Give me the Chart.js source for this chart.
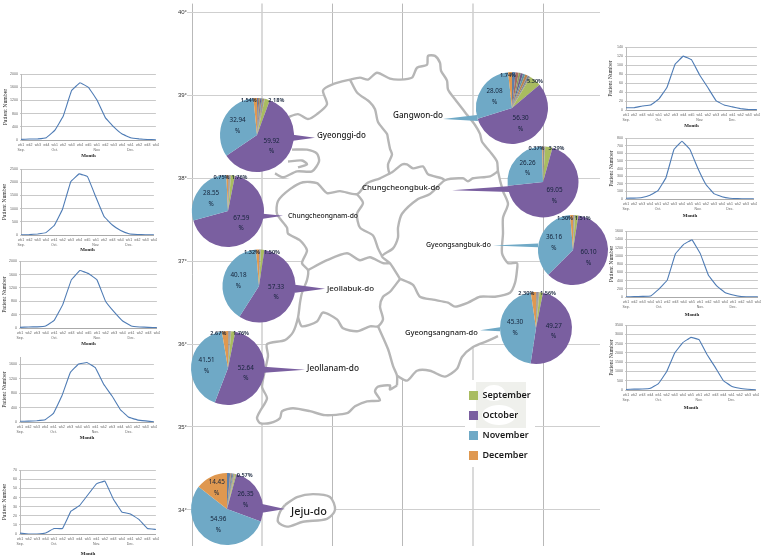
<!DOCTYPE html>
<html><head><meta charset="utf-8">
<style>
html,body{margin:0;padding:0;background:#fff;width:763px;height:556px;overflow:hidden}
canvas{position:absolute;display:block;filter:blur(0.3px)}
</style>
<script src="https://cdn.jsdelivr.net/npm/chart.js@4/dist/chart.umd.min.js"></script>
</head><body>
<script>
/* ---------- weekly line charts ---------- */
const weekLabels = ['wk1','wk2','wk3','wk4','wk1','wk2','wk3','wk4','wk5','wk1','wk2','wk3','wk4','wk1','wk2','wk3','wk4'];
const monthAtWeek = {0:'Sep.',4:'Oct.',9:'Nov.',13:'Dec.'};
const weeklyGyeonggi  = [20,30,35,70,290,720,1500,1740,1600,1220,680,400,180,70,35,15,5];
const weeklyChungnam  = [5,15,40,90,360,980,2030,2320,2220,1450,700,380,170,50,20,10,5];
const weeklyJeonbuk   = [20,30,35,60,230,700,1440,1720,1630,1440,800,480,210,60,30,20,10];
const weeklyJeonnam   = [20,25,35,60,240,720,1370,1610,1650,1510,1050,720,340,130,60,30,5];
const weeklyJeju      = [1,0,0,1,6,6,25,31,43,55,58,38,24,22,16,6,5];
const weeklyGangwon   = [5,5,9,11,24,50,102,120,112,78,50,21,11,7,3,1,1];
const weeklyChungbuk  = [10,12,20,50,110,280,650,760,650,400,190,70,30,10,5,2,1];
const weeklyGyeongbuk = [5,10,15,25,190,410,1050,1280,1390,1060,530,270,110,50,10,5,2];
const weeklyGyeongnam = [30,50,50,90,350,980,2000,2560,2840,2720,1900,1220,500,200,90,40,10];

/* ---------- monthly share pies: Jan..Aug (small), Sep, Oct, Nov, Dec ---------- */
const pieMonths = ['Jan','Feb','Mar','Apr','May','Jun','Jul','Aug','September','October','November','December'];
const shareGyeonggi  = [0.5,0.5,0.4,0.5,0.4,0.4,0.4,0.32,2.18,59.92,32.94,1.54];
const shareChungnam  = [0.2,0.2,0.15,0.2,0.15,0.15,0.15,0.15,1.76,67.59,28.55,0.75];
const shareJeonbuk   = [0.1,0.1,0.1,0.2,0.1,0.1,0.1,0.1,1.50,57.33,40.18,1.32];
const shareJeonnam   = [0.2,0.2,0.2,0.2,0.15,0.15,0.15,0.17,1.76,52.64,41.51,2.67];
const shareJeju      = [1.4,0.3,0.3,0.4,0.5,0.3,0.2,0.27,0.57,26.35,54.96,14.45];
const shareGangwon   = [1.6,1.4,0.9,1.1,1.0,1.2,0.9,0.48,5.30,56.30,28.08,1.74];
const shareChungbuk  = [0.15,0.15,0.1,0.15,0.1,0.15,0.1,0.13,3.29,69.05,26.26,0.37];
const shareGyeongbuk = [0.15,0.1,0.1,0.15,0.1,0.15,0.1,0.08,1.51,60.10,36.16,1.30];
const shareGyeongnam = [0.25,0.2,0.2,0.25,0.2,0.2,0.15,0.12,1.56,49.27,45.30,2.30];

const regionNames = ['Gyeonggi-do','Chungcheongnam-do','Jeollabuk-do','Jeollanam-do','Jeju-do','Gangwon-do','Chungcheongbuk-do','Gyeongsangbuk-do','Gyeongsangnam-do'];
const latTicks = [34,35,36,37,38,39,40];
const lonTicks = [125,126,127,128,129,130];

/* ---------- map outlines, traced on the picture and georeferenced below ---------- */
const traceNorthEast = [[288,115],[298,112],[308,117],[317,112],[327,102],[323,88],[332,82],[350,77],[360,75],[368,77],[377,70],[390,76],[400,77],[412,75],[417,65],[427,62],[428,53],[435,53],[440,60],[441,68],[447,78],[448,87],[455,97],[465,110],[475,123],[480,132],[482,140],[490,150],[497,160],[498,170],[503,190],[508,203],[503,217],[503,233],[502,253],[508,263],[517,263],[517,270],[515,283],[510,293],[495,297],[480,297],[468,303],[455,307],[448,303],[433,300],[420,297],[413,285],[400,279]];
const traceGangwonSouth = [[350,77],[357,90],[370,100],[375,107],[378,120],[387,132],[388,137],[390,147],[392,153],[388,163],[390,172],[402,163],[407,163],[413,167],[423,165],[428,173],[442,177],[445,179]];
const traceChungbukSouth = [[498,170],[490,175],[473,177],[468,180],[463,177],[445,179],[430,193],[418,198],[402,213],[398,227],[398,237],[393,248],[382,256],[390,263],[400,279]];
const traceWestCoast = [[390,172],[380,177],[367,182],[357,193],[340,190],[327,192],[317,182],[303,181],[290,188],[278,200],[277,213],[287,227],[288,233],[300,240],[307,250],[302,263],[308,270],[307,280],[302,293],[300,303],[298,318],[293,333],[285,341],[267,345],[268,357],[262,388],[267,400],[260,413],[257,420],[260,425],[270,425],[280,420],[282,413],[293,410],[310,413],[325,417],[347,415],[355,408],[367,403],[380,402],[375,393],[378,388],[390,387],[390,391],[397,387]];
const traceGyeongnamWest = [[378,327],[388,350],[393,367],[397,377],[397,387]];
const traceSouthCoast = [[397,377],[407,382],[417,372],[430,372],[445,378],[457,370],[462,358],[473,348],[487,342],[498,337]];
const traceJeonbukSouth = [[298,318],[302,327],[317,322],[323,313],[337,320],[343,329],[357,332],[370,327],[378,327],[383,320],[380,307],[383,297],[390,292],[400,279]];
const traceJeonbukNorth = [[308,270],[327,260],[347,253],[360,260],[370,257],[383,263],[390,263]];
const traceChungnamEast = [[357,193],[363,202],[357,213],[360,227],[373,235],[378,248],[382,256]];
const traceGyeonggiCoast = [[275,172],[283,176],[297,170],[312,170],[319,160],[317,152],[307,148],[292,148]];
const traceGyeonggiIsle = [[288,160],[302,159],[307,163],[298,166]];
const traceJeju = [[285,508],[297,500],[313,497],[330,500],[335,513],[327,522],[303,525],[287,530],[278,525],[280,515],[285,508]];
const traceLand = [...traceNorthEast.slice(0,40),[498,337],...traceSouthCoast.slice().reverse(),[397,387],[390,391],[390,387],[378,388],[375,393],[380,402],[367,403],[355,408],[347,415],[325,417],[310,413],[293,410],[282,413],[280,420],[270,425],[260,425],[257,420],[260,413],[267,400],[262,388],[268,357],[267,345],[285,341],[293,333],[298,318],[300,303],[302,293],[307,280],[308,270],[302,263],[307,250],[300,240],[288,233],[287,227],[277,213],[278,200],[290,188],[303,181],[283,176],[297,170],[312,170],[319,160],[317,152],[307,148],[292,148],[288,115]];
const wedgeGyeonggi  = [[293,133],[315,136],[293,139]];
const wedgeChungnam  = [[263,213],[283,215],[263,218]];
const wedgeJeonbuk   = [[295,285],[325,289],[295,293]];
const wedgeJeonnam   = [[264,368],[305,371],[264,374]];
const wedgeJeju      = [[262,507],[285,512],[262,516]];
const wedgeGangwon   = [[477,113],[443,117],[478,119]];
const wedgeChungbuk  = [[508,185],[452,189],[510,191]];
const wedgeGyeongbuk = [[538,243],[493,245],[538,247]];
const wedgeGyeongnam = [[500,328],[480,331],[500,332]];

/* ---------- styles & layout ---------- */
const C = {line:'#4f7cb5', grid:'#c9c9c9', land:'#b6b6b6', sep:'#a9bc60', oct:'#7a5fa0', nov:'#6fa9c6', dec:'#df9850', purple:'#7a5fa0', blue:'#6fa9c6'};
const sliceColors = ['#5f7fa8','#a8695f','#8b9a5b','#6f5b86','#5f93a3','#b8824e','#7d8794','#9a8f7a',C.sep,C.oct,C.nov,C.dec];
const lon = x => 125+(x-192)/70.3, lat = y => 34+(513-y)/84;
const geo = t => t.map(([x,y]) => ({x:lon(x), y:lat(y)}));
Chart.defaults.animation = false;
Chart.defaults.responsive = false;
Chart.defaults.plugins.legend.display = false;
Chart.defaults.plugins.tooltip.enabled = false;

function addCanvas(l,t,w,h,z){
  const c = document.createElement('canvas');
  c.width = w; c.height = h;
  c.style.cssText = `left:${l}px;top:${t}px;width:${w}px;height:${h}px;z-index:${z}`;
  document.body.appendChild(c);
  return c;
}

/* ---------- map ---------- */
const outlineTraces = [traceNorthEast,traceGangwonSouth,traceChungbukSouth,traceWestCoast,traceGyeongnamWest,traceSouthCoast,traceJeonbukSouth,traceJeonbukNorth,traceChungnamEast,traceGyeonggiCoast,traceGyeonggiIsle];
const regionLabelLayout = [[317,136,49],[288,216,70],[327,289,47],[307,369,52],[291,512,36],[393,116,50],[362,188,78],[426,245,65],[405,333,73]];
const regionLabelPlugin = {id:'regionLabels', afterDatasetsDraw(chart){
  const ctx = chart.ctx, originX = 150;
  ctx.save(); ctx.textBaseline='middle'; ctx.textAlign='left'; ctx.fillStyle='#1c1c1c';
  regionNames.forEach((name,i)=>{
    const [x,y,w] = regionLabelLayout[i];
    ctx.font = '500 10px "Noto Sans"';
    const size = 10*w/ctx.measureText(name).width;
    ctx.font = '500 '+size.toFixed(2)+'px "Noto Sans"';
    ctx.fillText(name,x-originX,y);
  });
  ctx.restore();
}};
const lineSet = (t,extra) => Object.assign({data:geo(t),showLine:true,pointRadius:0,borderColor:C.land,borderWidth:2.4,borderJoinStyle:'round',tension:0.25,fill:false,order:2},extra||{});
const wedgeSet = (t,col) => ({data:geo(t),showLine:true,pointRadius:0,borderWidth:0,backgroundColor:col,fill:'shape',order:0});
new Chart(addCanvas(150,0,450,550,1),{
  type:'scatter',
  data:{datasets:[
    wedgeSet(wedgeGyeonggi,C.purple),wedgeSet(wedgeChungnam,C.purple),wedgeSet(wedgeJeonbuk,C.purple),wedgeSet(wedgeJeonnam,C.purple),wedgeSet(wedgeJeju,C.purple),
    wedgeSet(wedgeGangwon,C.blue),wedgeSet(wedgeChungbuk,C.purple),wedgeSet(wedgeGyeongbuk,C.blue),wedgeSet(wedgeGyeongnam,C.blue),
    ...outlineTraces.map(t=>lineSet(t)),
    lineSet(traceJeju,{backgroundColor:'#fff',fill:'shape',tension:0.3,order:1}),
    {data:geo(traceLand),showLine:true,pointRadius:0,borderWidth:0,backgroundColor:'#fff',fill:'shape',order:5}
  ]},
  options:{
    layout:{padding:0},
    scales:{
      x:{type:'linear',min:lon(192),max:lon(600),
         afterBuildTicks:s=>{s.ticks=lonTicks.map(v=>({value:v}));},
         afterFit:s=>{s.height=0;},
         ticks:{display:false},border:{display:false},
         grid:{drawTicks:false,
           color:c=>[125,127,128,130].includes(c.tick.value)?'#b9b9b9':'#dadada',
           lineWidth:c=>[126,129].includes(c.tick.value)?2:1}},
      y:{type:'linear',min:lat(550),max:lat(0),
         afterBuildTicks:s=>{s.ticks=latTicks.map(v=>({value:v}));},
         afterFit:s=>{s.width=42;},
         ticks:{callback:v=>v+'°',padding:0,color:'#333',font:{family:'"Liberation Sans"',size:6}},
         border:{display:false},
         grid:{color:'#cfcfcf',lineWidth:1,tickLength:5}}
    }
  },
  plugins:[regionLabelPlugin]
});

/* ---------- line charts ---------- */
const weekTicks = weekLabels.map((w,i)=> monthAtWeek[i] ? [w,monthAtWeek[i]] : w);
function weekly(values,yMax,step,l,t,r,b,monthY,titleX,canvasLeft){
  const top = t-3, H = monthY+3-top, W = r+2-canvasLeft;
  new Chart(addCanvas(canvasLeft,top,W,H,1),{
    type:'line',
    data:{labels:weekTicks,datasets:[{data:values,borderColor:C.line,borderWidth:1.1,pointRadius:0,tension:0.05}]},
    options:{
      layout:{padding:{top:3,right:2}},
      scales:{
        x:{afterFit:s=>{s.height=H-3-(b-t);},
           ticks:{autoSkip:false,maxRotation:0,minRotation:0,padding:2,color:'#666',font:{family:'"Liberation Sans"',size:3.5,lineHeight:1.4}},
           grid:{display:false,tickLength:1},border:{color:'#aaa'},
           title:{display:true,text:'Month',color:'#222',padding:{top:0,bottom:0.5},font:{family:'"Liberation Serif"',size:5,weight:'bold',lineHeight:1.2}}},
        y:{min:0,max:yMax,afterFit:s=>{s.width=l-canvasLeft;},
           ticks:{stepSize:step,padding:2,color:'#666',font:{family:'"Liberation Sans"',size:3.6},callback:v=>String(v)},
           grid:{color:C.grid,lineWidth:1,tickLength:1},border:{color:'#bbb'},
           title:{display:true,text:'Patient Number',color:'#222',padding:{top:titleX-canvasLeft-3,bottom:0},font:{family:'"Liberation Serif"',size:5.8,lineHeight:1.2}}}
      }
    }
  });
}
weekly(weeklyGyeonggi,2000,200,21,73,159,140,156,5,0);
weekly(weeklyChungnam,2500,500,21,168,157,235,250,4,0);
weekly(weeklyJeonbuk,2000,200,20,260,160,328,344,4,0);
weekly(weeklyJeonnam,1800,200,20,356,157,422,438,4,0);
weekly(weeklyJeju,70,10,20,469,159,534,554,4,0);
weekly(weeklyGangwon,140,20,626,46,760,110,126,610,604);
weekly(weeklyChungbuk,800,100,626,137,757,199,216,611,604);
weekly(weeklyGyeongbuk,1600,200,626,230,761,297,315,611,604);
weekly(weeklyGyeongnam,3500,500,626,324,759,390,408,611,604);

/* ---------- pies ---------- */
const pieLabelPlugin = {id:'pieLabels', afterDatasetsDraw(chart,args,o){
  const ctx = chart.ctx, arcs = chart.getDatasetMeta(0).data, vals = chart.data.datasets[0].data;
  ctx.save(); ctx.textAlign='center'; ctx.textBaseline='middle'; ctx.fillStyle='#15233a';
  const P = arcs[0];
  vals.forEach((v,i)=>{
    if(i<8) return;
    const a = arcs[i];
    if(v>=10){
      const ang = (a.startAngle+a.endAngle)/2, f = o.frac[i-8], rr = a.outerRadius*f;
      const x = a.x+Math.cos(ang)*rr, y = a.y+Math.sin(ang)*rr;
      ctx.font='6.3px "Noto Sans"';
      ctx.fillText(v.toFixed(2),x,y-5.3);
      ctx.fillText('%',x,y+5.3);
    } else {
      const off = i===8 ? o.sep : o.dec;
      ctx.font='600 5.6px "Noto Sans"';
      ctx.fillText(v.toFixed(2)+'%',P.x+off[0],P.y+off[1]);
    }
  });
  ctx.restore();
}};
function pie(values,cx,cy,r,sep,dec,frac){
  const S = 100;
  new Chart(addCanvas(cx-S/2,cy-S/2,S,S,2),{
    type:'pie',
    data:{labels:pieMonths,datasets:[{data:values,backgroundColor:sliceColors,borderWidth:0}]},
    options:{radius:r,layout:{padding:0},plugins:{pieLabels:{sep,dec,frac}}},
    plugins:[pieLabelPlugin]
  });
}
pie(shareGyeonggi,257,135,37,[19.3,-34.7],[-8.3,-34.7],[0,.5,.58,.65]);
pie(shareChungnam,228,211,36,[11.5,-33.7],[-6.5,-33.7],[0,.5,.58,.65]);
pie(shareJeonbuk,259,286,36.5,[13,-33.7],[-7,-33.7],[0,.5,.58,.65]);
pie(shareJeonnam,228,368,37,[13,-34.7],[-9.7,-34.7],[0,.5,.58,.65]);
pie(shareJeju,227,509,36,[17.7,-33.7],[0,0],[0,.58,.5,.65]);
pie(shareGangwon,512,108,36,[23,-26.7],[-4,-33],[0,.5,.58,.65]);
pie(shareChungbuk,543,182,35.5,[13.5,-33.3],[-6.5,-33.3],[0,.5,.58,.65]);
pie(shareGyeongbuk,573,250,35,[9.7,-32],[-8,-32],[0,.5,.58,.65]);
pie(shareGyeongnam,536,328,36,[12,-34.5],[-9.7,-34.5],[0,.5,.58,.65]);

/* ---------- legend ---------- */
const legendMonths = ['September','October','November','December'];
const legendBackdrop = {id:'legendBackdrop', beforeDraw(chart){
  const ctx = chart.ctx;
  ctx.save();
  ctx.fillStyle='#fff'; ctx.fillRect(7,0,70,87);
  ctx.fillStyle='#eff0ec'; ctx.fillRect(18,2,50,46);
  ctx.fillStyle='#fff';
  ctx.beginPath(); ctx.ellipse(36,13,11,8,0,0,Math.PI*2); ctx.fill();
  ctx.beginPath(); ctx.ellipse(41,35,17,10,0,0,Math.PI*2); ctx.fill();
  ctx.restore();
}};
new Chart(addCanvas(458,380,110,176,1),{
  type:'doughnut',
  data:{labels:legendMonths,datasets:[{data:[1,1,1,1],backgroundColor:[C.sep,C.oct,C.nov,C.dec],borderWidth:0,circumference:0}]},
  options:{layout:{padding:0},plugins:{legend:{display:true,position:'top',align:'start',maxHeight:170,
    labels:{boxWidth:9,boxHeight:9,padding:11,color:'#1a1a1a',font:{family:'"Noto Sans"',size:9,weight:'600'}}}}},
  plugins:[legendBackdrop]
});
</script>
</body></html>
